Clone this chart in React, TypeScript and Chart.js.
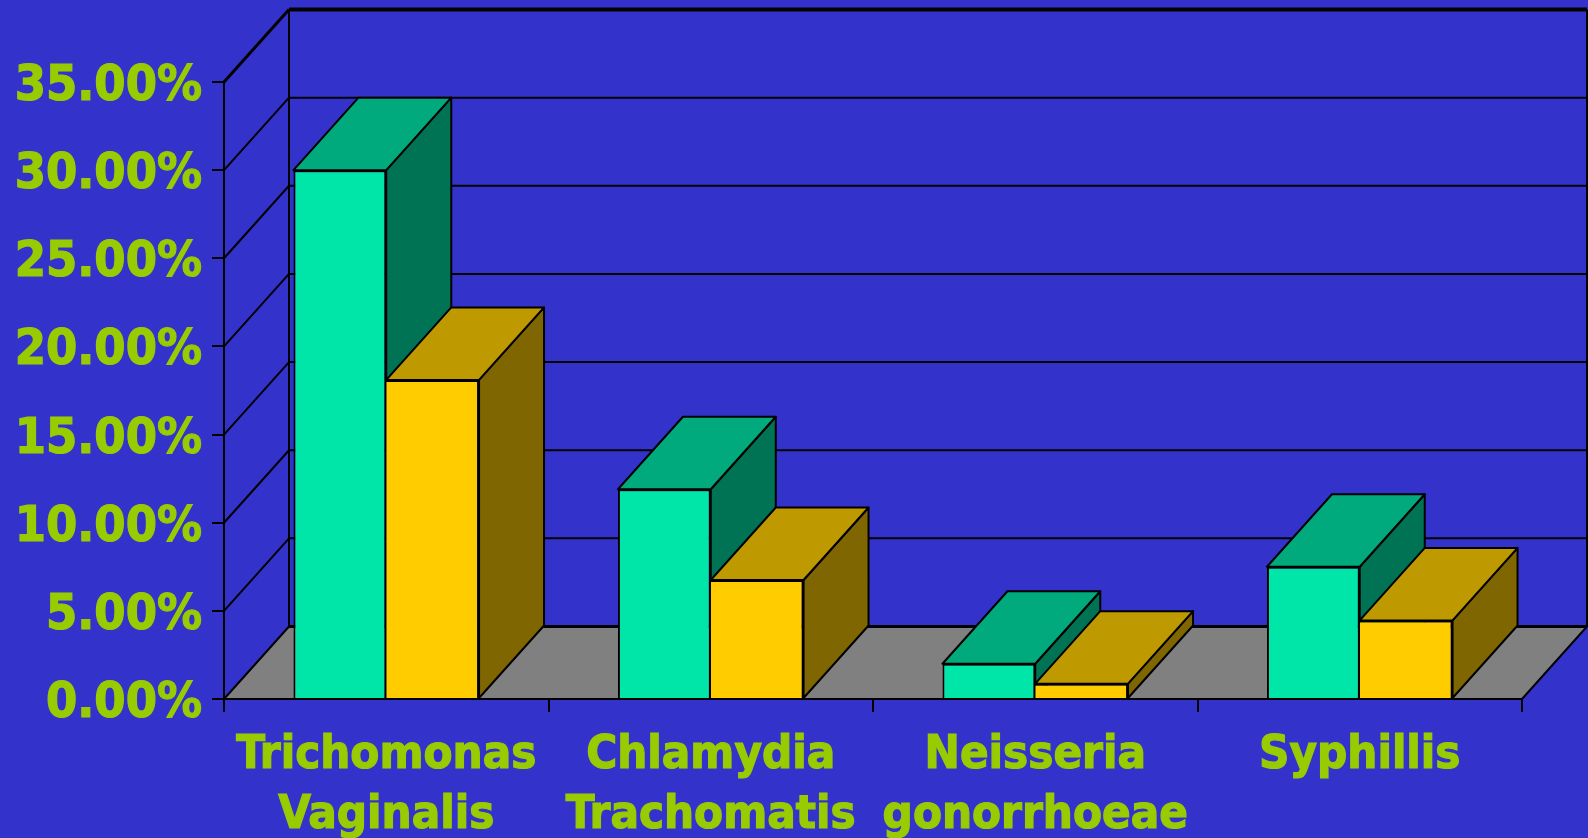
import React, { useEffect, useRef } from "react";
import { Chart, registerables } from "chart.js";

Chart.register(...registerables);

const categories = [
  ["Trichomonas", "Vaginalis"],
  ["Chlamydia", "Trachomatis"],
  ["Neisseria", "gonorrhoeae"],
  ["Syphillis"],
];
const seriesA = [30.0, 11.9, 2.0, 7.5];
const seriesB = [18.1, 6.75, 0.87, 4.46];

const BG = "#3333CC";
const LABEL = "#99CC00";
const FONT = "'DejaVu Sans Condensed', 'DejaVu Sans', sans-serif";
const DX = 65;
const DY = 72.5;
const FACES = [
  { front: "#00E6A8", top: "#00AA7D", side: "#007354" },
  { front: "#FFCC00", top: "#BF9900", side: "#806600" },
];

function poly(ctx: CanvasRenderingContext2D, pts: number[][], fill: string | null, lw: number) {
  ctx.beginPath();
  pts.forEach((p, i) => (i ? ctx.lineTo(p[0], p[1]) : ctx.moveTo(p[0], p[1])));
  ctx.closePath();
  if (fill) {
    ctx.fillStyle = fill;
    ctx.fill();
  }
  ctx.lineWidth = lw;
  ctx.strokeStyle = "#000";
  ctx.lineJoin = "round";
  ctx.stroke();
}

function seg(ctx: CanvasRenderingContext2D, x0: number, y0: number, x1: number, y1: number, lw: number) {
  ctx.beginPath();
  ctx.moveTo(x0, y0);
  ctx.lineTo(x1, y1);
  ctx.lineWidth = lw;
  ctx.strokeStyle = "#000";
  ctx.stroke();
}

const walls = {
  id: "walls",
  beforeDraw(chart: any) {
    const { ctx, chartArea: a, scales } = chart;
    const y = scales.y;
    const base = y.getPixelForValue(0);
    ctx.save();
    poly(
      ctx,
      [
        [a.left, base],
        [a.left + DX, base - DY],
        [a.right + DX, base - DY],
        [a.right, base],
      ],
      "#808080",
      2
    );
    seg(ctx, a.left + DX, base - DY, a.right + DX, base - DY, 3);
    for (const t of y.ticks) {
      const py = y.getPixelForValue(t.value);
      if (t.value > 0) {
        seg(ctx, a.left, py, a.left + DX, py - DY, t.value === y.max ? 3 : 2);
        seg(ctx, a.left + DX, py - DY, a.right + DX, py - DY, t.value === y.max ? 4 : 2);
      }
    }
    seg(ctx, a.left + DX, a.top - DY, a.left + DX, base - DY, 2);
    seg(ctx, a.right + DX, a.top - DY, a.right + DX, base - DY, 2);
    ctx.restore();
  },
  beforeDatasetsDraw(chart: any) {
    const { ctx } = chart;
    ctx.save();
    FACES.forEach((f, i) => {
      chart.getDatasetMeta(i).data.forEach((el: any) => {
        const x0 = el.x - el.width / 2;
        const x1 = el.x + el.width / 2;
        poly(
          ctx,
          [
            [x1, el.y],
            [x1 + DX, el.y - DY],
            [x1 + DX, el.base - DY],
            [x1, el.base],
          ],
          f.side,
          2
        );
        poly(
          ctx,
          [
            [x0, el.y],
            [x1, el.y],
            [x1 + DX, el.y - DY],
            [x0 + DX, el.y - DY],
          ],
          f.top,
          2
        );
      });
    });
    ctx.restore();
  },
};

export default function App() {
  const ref = useRef<HTMLCanvasElement>(null);
  useEffect(() => {
    const chart = new Chart(ref.current!, {
      type: "bar",
      plugins: [walls],
      data: {
        labels: categories,
        datasets: [
          {
            data: seriesA,
            backgroundColor: FACES[0].front,
            borderColor: "#000",
            borderWidth: { top: 2, right: 2, bottom: 0, left: 2 },
            borderSkipped: false,
          },
          {
            data: seriesB,
            backgroundColor: FACES[1].front,
            borderColor: "#000",
            borderWidth: { top: 2, right: 2, bottom: 0, left: 0 },
            borderSkipped: false,
          },
        ] as any,
      },
      options: {
        responsive: false,
        animation: false,
        events: [],
        layout: { autoPadding: false, padding: { top: 82, right: 66, left: 0, bottom: 0 } },
        plugins: { legend: { display: false }, tooltip: { enabled: false } },
        datasets: { bar: { categoryPercentage: 0.572, barPercentage: 1 } },
        scales: {
          x: {
            afterFit: (s: any) => {
              s.height = 139;
            },
            grid: { drawOnChartArea: false, color: "#000", lineWidth: 2, tickLength: 13 },
            border: { color: "#000", width: 2 },
            ticks: {
              color: LABEL,
              textStrokeColor: LABEL,
              textStrokeWidth: 1.2,
              font: { family: FONT, weight: "bold", size: 47, lineHeight: 1.277 },
              padding: 14,
              maxRotation: 0,
              autoSkip: false,
            },
          },
          y: {
            min: 0,
            max: 35,
            afterFit: (s: any) => {
              s.width = 224;
            },
            grid: { drawOnChartArea: false, color: "#000", lineWidth: 2, tickLength: 12 },
            border: { color: "#000", width: 2 },
            ticks: {
              stepSize: 5,
              color: LABEL,
              textStrokeColor: LABEL,
              textStrokeWidth: 1.2,
              padding: 10,
              font: { family: FONT, weight: "bold", size: 50, lineHeight: 0.2 },
              callback: (v: any) => ["", Number(v).toFixed(2) + "%"],
            },
          },
        },
      } as any,
    });
    return () => chart.destroy();
  }, []);
  return (
    <canvas
      ref={ref}
      width={1588}
      height={838}
      style={{ position: "fixed", left: 0, top: 0, width: 1588, height: 838, background: BG, display: "block" }}
    />
  );
}
